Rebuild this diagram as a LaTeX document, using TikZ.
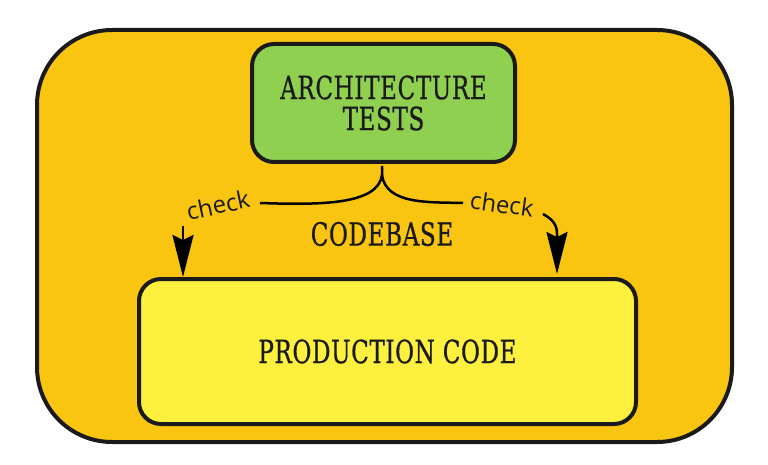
\documentclass[tikz,border=0pt]{standalone}
\usepackage{fontspec}
\setmainfont{Open Sans}
\newfontfamily\slabfont[FakeStretch=0.8,LetterSpace=2,FakeBold=0.6]{DejaVu Serif Condensed}
\usetikzlibrary{arrows.meta}
\definecolor{outerfill}{RGB}{249,197,17}
\definecolor{greenfill}{RGB}{143,208,80}
\definecolor{prodfill}{RGB}{253,240,62}
\definecolor{ink}{RGB}{26,26,26}
\tikzset{
  boxstyle/.style={draw=ink, line width=4pt, rounded corners=#1},
  capstext/.style={font=\slabfont\fontsize{32}{31}\selectfont, text=ink, align=center},
  checktext/.style={font=\fontsize{24}{26}\selectfont, text=ink},
  conn/.style={draw=black, line width=2.5pt},
  arrowconn/.style={conn, -{Stealth[length=42pt,width=21pt,inset=5pt]}}
}
\begin{document}
\begin{tikzpicture}[x=1pt,y=-1pt]
\useasboundingbox (0,0) rectangle (768,465);
\node[boxstyle=75pt, fill=outerfill, minimum width=695pt, minimum height=412pt, anchor=north west] (outer) at (35,28) {};
\node[boxstyle=22pt, fill=greenfill, minimum width=263pt, minimum height=118pt, anchor=north west] (arch) at (250,42) {};
\node[capstext] (archtext) at (arch.center) {ARCHITECTURE\\TESTS};
\node[boxstyle=22pt, fill=prodfill, minimum width=497pt, minimum height=145pt, anchor=north west] (prod) at (137,277) {};
\node[capstext] (prodtext) at (prod.center) {PRODUCTION CODE};
\node[capstext] (codebase) at (382,234) {CODEBASE};
\coordinate (tip) at (382,166);
\coordinate (lb) at (260,203);
\coordinate (rb) at (463,203);
\draw[conn] (lb) .. controls (320,205) and (378,205) .. (382,175) -- (tip);
\draw[conn] (rb) .. controls (430,202) and (386,205) .. (382,175);
\node[checktext, rotate=12] (lcheck) at (218,205) {check};
\node[checktext, rotate=-8] (rcheck) at (502,204) {check};
\coordinate (lstart) at (183,226);
\coordinate (rstart) at (543,214);
\draw[arrowconn] (lstart) -- (lstart |- prod.north);
\draw[arrowconn] (rstart) .. controls (554,220) and (557,226) .. (557,234) -- (557,274);
\end{tikzpicture}
\end{document}
